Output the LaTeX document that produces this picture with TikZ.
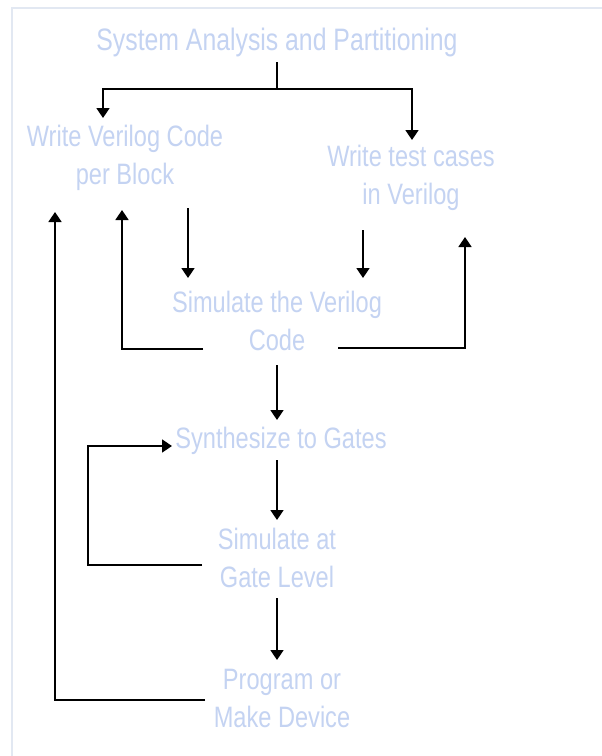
\documentclass[tikz,border=0pt]{standalone}
\usepackage{fontspec}
\setmainfont[FakeStretch=0.80]{Liberation Sans}
\usetikzlibrary{arrows.meta}
\definecolor{labelblue}{HTML}{C4D3F2}
\definecolor{framegrey}{HTML}{E2E8F2}
\begin{document}
\begin{tikzpicture}[x=1pt,y=-1pt,
  lbl/.style={text=labelblue, align=center, inner sep=0pt,
    font=\fontsize{29.5}{38}\selectfont},
  conn/.style={line width=1.7pt, draw=black},
  arr/.style={conn, -{Triangle[width=13pt,length=10pt]}}]
  % page and frame
  \useasboundingbox (0,0) rectangle (602,756);
  \fill[white] (0,0) rectangle (602,756);
  \draw[framegrey, line width=2pt] (12,756) -- (12,8) -- (602,8);

  % stages
  \node[lbl, font=\fontsize{31}{38}\selectfont] (sys) at (277,42) {System Analysis and Partitioning};
  \node[lbl] (wvc) at (125,158) {Write Verilog Code\\per Block};
  \node[lbl] (wtc) at (411,178) {Write test cases\\in Verilog};
  \node[lbl] (svc) at (277,321) {Simulate the Verilog\\Code};
  \node[lbl] (syn) at (281,441) {Synthesize to Gates};
  \node[lbl] (sgl) at (277,558) {Simulate at\\Gate Level};
  \node[lbl] (pmd) at (282,698) {Program or\\Make Device};

  % connector end points
  \coordinate (sysOut) at (277,62);
  \coordinate (split) at (277,89);
  \coordinate (wvcIn) at (103,118);
  \coordinate (wtcIn) at (412,140);
  \coordinate (wvcOut) at (188,208);
  \coordinate (wtcOut) at (363,230);
  \coordinate (svcInL) at (188,278);
  \coordinate (svcInR) at (363,278);
  \coordinate (svcBackL) at (203,349);
  \coordinate (wvcBack) at (122,210);
  \coordinate (svcBackR) at (338,348);
  \coordinate (wtcBack) at (465,237);
  \coordinate (svcOut) at (277,365);
  \coordinate (synIn) at (277,420);
  \coordinate (synOut) at (277,460);
  \coordinate (sglIn) at (277,520);
  \coordinate (sglBack) at (202,565);
  \coordinate (loopCorner) at (88,565);
  \coordinate (synBack) at (172,446);
  \coordinate (sglOut) at (277,598);
  \coordinate (pmdIn) at (277,660);
  \coordinate (pmdBack) at (205,700);
  \coordinate (wvcBackFar) at (55,212);

  % flow
  \draw[conn] (sysOut) -- (split);
  \draw[arr] (split) -| (wvcIn);
  \draw[arr] (split) -| (wtcIn);
  \draw[arr] (wvcOut) -- (svcInL);
  \draw[arr] (wtcOut) -- (svcInR);
  \draw[arr] (svcBackL) -| (wvcBack);
  \draw[arr] (svcBackR) -| (wtcBack);
  \draw[arr] (svcOut) -- (synIn);
  \draw[arr] (synOut) -- (sglIn);
  \draw[arr] (sglBack) -- (loopCorner) |- (synBack);
  \draw[arr] (sglOut) -- (pmdIn);
  \draw[arr] (pmdBack) -| (wvcBackFar);
\end{tikzpicture}
\end{document}
